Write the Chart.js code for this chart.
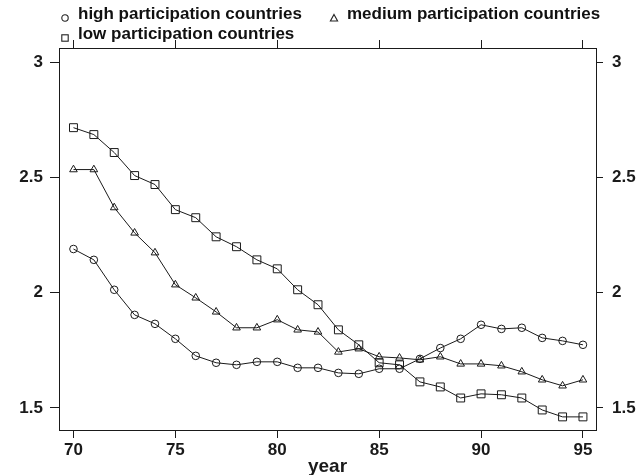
<!DOCTYPE html>
<html><head><meta charset="utf-8">
<script src="https://cdn.jsdelivr.net/npm/chart.js@4"></script>
<style>
html,body{margin:0;padding:0;background:#fff;}
#wrap{position:relative;width:640px;height:475px;}
canvas{position:absolute;left:0;top:0;}
.lg{position:absolute;font:bold 17px "Liberation Sans",Arial,sans-serif;color:#111;white-space:nowrap;line-height:20px;}
.sym{position:absolute;}
</style></head><body>
<div id="wrap">
<canvas id="c" width="640" height="475"></canvas>
<svg class="sym" style="left:60px;top:13px" width="10" height="10"><circle cx="5" cy="5" r="3.2" fill="none" stroke="#222" stroke-width="1.1"/></svg>
<div class="lg" style="left:78px;top:4px">high participation countries</div>
<svg class="sym" style="left:329px;top:13px" width="10" height="10"><polygon points="5,1.5 8.6,8 1.4,8" fill="none" stroke="#222" stroke-width="1.1"/></svg>
<div class="lg" style="left:347px;top:4px">medium participation countries</div>
<svg class="sym" style="left:60px;top:33px" width="10" height="10"><rect x="1.8" y="1.8" width="6.4" height="6.4" fill="none" stroke="#222" stroke-width="1.1"/></svg>
<div class="lg" style="left:78px;top:24px">low participation countries</div>
</div>
<script>
const years = [70,71,72,73,74,75,76,77,78,79,80,81,82,83,84,85,86,87,88,89,90,91,92,93,94,95];
const highPart = [2.19,2.143,2.013,1.904,1.865,1.80,1.726,1.696,1.687,1.70,1.70,1.674,1.674,1.652,1.648,1.67,1.67,1.713,1.76,1.80,1.861,1.843,1.848,1.804,1.791,1.774];
const mediumPart = [2.535,2.535,2.37,2.26,2.174,2.035,1.978,1.917,1.848,1.848,1.883,1.839,1.83,1.743,1.757,1.722,1.717,1.709,1.722,1.691,1.691,1.683,1.657,1.622,1.596,1.622];
const lowPart = [2.717,2.687,2.609,2.509,2.47,2.361,2.326,2.243,2.2,2.143,2.104,2.013,1.948,1.839,1.774,1.696,1.687,1.613,1.591,1.543,1.561,1.557,1.543,1.491,1.461,1.461];
const xTicks = [70,75,80,85,90,95];
const yTicks = [1.5,2,2.5,3];
const xLabel = 'year';

const FONT = {family:'"Liberation Sans", Arial, sans-serif', size:17, weight:'bold'};
const TFONT = {family:'"Liberation Sans", Arial, sans-serif', size:19, weight:'bold'};
const INK = '#1a1a1a';
const X_MIN = 69.29, X_MAX = 95.64, Y_MIN = 1.404, Y_MAX = 3.063;

function pts(vals){ return years.map((yr,i)=>({x:yr,y:vals[i]})); }
function ds(label, vals, style, r){
  return {label, data:pts(vals), borderColor:INK, borderWidth:1, pointStyle:style, pointRadius:r,
    pointHoverRadius:r, pointBorderColor:INK, pointBorderWidth:1, pointBackgroundColor:'rgba(0,0,0,0)',
    tension:0, fill:false, xAxisID:'x', yAxisID:'y'};
}
const xCommon = (pos, showLabels, h) => ({
  type:'linear', position:pos, min:X_MIN, max:X_MAX,
  afterBuildTicks:s=>{s.ticks = xTicks.map(v=>({value:v}));},
  ticks:{display:showLabels, font:FONT, color:INK, padding:2, maxRotation:0, autoSkip:false, callback:v=>String(v)},
  grid:{drawOnChartArea:false, drawTicks:true, tickLength:8, color:INK, lineWidth:1},
  border:{display:true, color:INK, width:1},
  afterFit:s=>{s.height = h;}
});
const yCommon = (pos, w, tl, pad) => ({
  type:'linear', position:pos, min:Y_MIN, max:Y_MAX,
  afterBuildTicks:s=>{s.ticks = yTicks.map(v=>({value:v}));},
  ticks:{font:FONT, color:INK, padding:pad, callback:v=>String(v)},
  grid:{drawOnChartArea:false, drawTicks:true, tickLength:tl, color:INK, lineWidth:1},
  border:{display:true, color:INK, width:1},
  afterFit:s=>{s.width = w;}
});

const xBottom = xCommon('bottom', true, 45);
xBottom.title = {display:true, text:xLabel, font:TFONT, color:INK, padding:{top:0,bottom:-3}};

new Chart(document.getElementById('c'), {
  type:'line',
  data:{datasets:[
    ds('high participation countries', highPart, 'circle', 3.8),
    ds('medium participation countries', mediumPart, 'triangle', 4.4),
    ds('low participation countries', lowPart, 'rect', 5.6)
  ]},
  options:{
    responsive:false, animation:false, devicePixelRatio:1,
    layout:{padding:0},
    plugins:{legend:{display:false}, tooltip:{enabled:false}},
    scales:{
      x: xBottom,
      x2: xCommon('top', false, 48),
      y: yCommon('left', 59, 9, 7),
      y2: yCommon('right', 44, 7, 9)
    }
  }
});
</script>
</body></html>
